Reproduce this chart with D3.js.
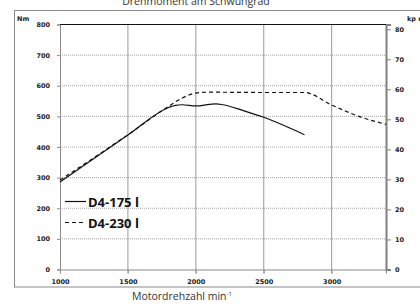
<!DOCTYPE html>
<html>
<head>
<meta charset="utf-8">
<script src="https://cdn.jsdelivr.net/npm/d3@7"></script>
<style>
  body { margin: 0; background: #fff; }
  svg { display: block; }
  .tick text { font-family: "DejaVu Sans", sans-serif; font-weight: bold; font-size: 6.5px; fill: #222; }
</style>
</head>
<body>
<svg width="420" height="304"></svg>
<script>
const NM_PER_KPM = 9.80665;

const rpmTicks = [1000, 1500, 2000, 2500, 3000];
const nmTicks = [0, 100, 200, 300, 400, 500, 600, 700, 800];
const kpmTicks = [0, 10, 20, 30, 40, 50, 60, 70, 80];

// D4-175 l (solid)
const rpm175 = [1000, 1500, 1800, 1850, 1900, 2000, 2100, 2150, 2200, 2350, 2500, 2650, 2800];
const nm175 = [286, 439, 529, 536, 538, 534, 539, 541, 538, 519, 497, 470, 440];

// D4-230 l (dashed)
const rpm230 = [1000, 1500, 1800, 1900, 2000, 2100, 2500, 2800, 3000, 3200, 3400];
const nm230 = [292, 440, 533, 560, 576, 579, 578, 578, 537, 500, 474];

const svg = d3.select("svg");
const margin = { left: 60, right: 34, top: 24.5, bottom: 34.5 };
const width = 420, height = 304;

const x = d3.scaleLinear().domain([1000, 3400]).range([margin.left, width - margin.right]);
const y = d3.scaleLinear().domain([0, 800]).range([height - margin.bottom, margin.top]);
// kp m axis is the same torque scale converted
const y2 = d3.scaleLinear().domain([0, 800 / NM_PER_KPM]).range([y(0), y(800)]);

// outer frame
svg.append("rect")
  .attr("x", 14.5).attr("y", 10.5)
  .attr("width", 420).attr("height", 276.5)
  .attr("fill", "none").attr("stroke", "#8a8a8a").attr("stroke-width", 1);

// title
svg.append("text")
  .attr("x", 196).attr("y", 5)
  .attr("text-anchor", "middle")
  .attr("font-family", "'Open Sans', sans-serif")
  .attr("font-size", 10.5).attr("fill", "#333")
  .text("Drehmoment am Schwungrad");

// horizontal grid (dotted)
svg.append("g")
  .selectAll("line")
  .data(nmTicks.slice(1, -1))
  .join("line")
  .attr("x1", x(1000)).attr("x2", x(3400))
  .attr("y1", (d) => y(d)).attr("y2", (d) => y(d))
  .attr("stroke", "#a0a0a0").attr("stroke-width", 1)
  .attr("stroke-dasharray", "1,1");

// vertical grid
svg.append("g")
  .selectAll("line")
  .data(rpmTicks.slice(1))
  .join("line")
  .attr("x1", (d) => x(d)).attr("x2", (d) => x(d))
  .attr("y1", y(800)).attr("y2", y(0) + 4)
  .attr("stroke", "#9a9a9a").attr("stroke-width", 1);

// bottom axis
const xAxis = svg.append("g")
  .attr("transform", `translate(0,${y(0)})`)
  .call(d3.axisBottom(x).tickValues(rpmTicks).tickFormat(d3.format("d")).tickSize(4).tickPadding(6));
xAxis.select(".domain").attr("stroke", "#8a8a8a");
xAxis.selectAll(".tick line").attr("stroke", "#9a9a9a");

// left axis
const yAxis = svg.append("g")
  .attr("transform", `translate(${x(1000)},0)`)
  .call(d3.axisLeft(y).tickValues(nmTicks).tickFormat(d3.format("d")).tickSize(3).tickPadding(7));
yAxis.select(".domain").attr("stroke", "#8a8a8a");
yAxis.selectAll(".tick line").attr("stroke", "#8a8a8a");

// right axis (kp m)
const y2Axis = svg.append("g")
  .attr("transform", `translate(${x(3400)},0)`)
  .call(d3.axisRight(y2).tickValues(kpmTicks).tickFormat(d3.format("d")).tickSize(5).tickPadding(4));
y2Axis.select(".domain").attr("stroke", "#808080").attr("stroke-width", 2);
y2Axis.selectAll(".tick line").attr("stroke", "#808080");

// top border
svg.append("line")
  .attr("x1", x(1000)).attr("x2", x(3400))
  .attr("y1", y(800)).attr("y2", y(800))
  .attr("stroke", "#111").attr("stroke-width", 1.2);

// unit labels
svg.append("text")
  .attr("x", 17).attr("y", 21)
  .attr("font-family", "'DejaVu Sans', sans-serif").attr("font-weight", "bold")
  .attr("font-size", 6.5).attr("fill", "#222")
  .text("Nm");
svg.append("text")
  .attr("x", 407).attr("y", 21)
  .attr("font-family", "'DejaVu Sans', sans-serif").attr("font-weight", "bold")
  .attr("font-size", 6.5).attr("fill", "#222")
  .text("kp m");

// x label
const xl = svg.append("text")
  .attr("x", 132).attr("y", 300)
  .attr("font-family", "'Open Sans', sans-serif")
  .attr("font-size", 10.5).attr("fill", "#333");
xl.append("tspan").text("Motordrehzahl min");
xl.append("tspan").attr("font-size", 6).attr("dy", -4).text("-1");

// curves
const line = d3.line()
  .x((d) => x(d[0]))
  .y((d) => y(d[1]))
  .curve(d3.curveMonotoneX);

svg.append("path")
  .datum(d3.zip(rpm230, nm230))
  .attr("d", line)
  .attr("fill", "none").attr("stroke", "#111").attr("stroke-width", 1.2)
  .attr("stroke-dasharray", "4,3");

svg.append("path")
  .datum(d3.zip(rpm175, nm175))
  .attr("d", line)
  .attr("fill", "none").attr("stroke", "#111").attr("stroke-width", 1.2);

// legend
const legend = [
  { name: "D4-175 l", dash: null, yy: 201.5 },
  { name: "D4-230 l", dash: "4,3", yy: 222.5 }
];
const lg = svg.append("g").selectAll("g").data(legend).join("g");
lg.append("line")
  .attr("x1", 65).attr("x2", 86)
  .attr("y1", (d) => d.yy).attr("y2", (d) => d.yy)
  .attr("stroke", "#111").attr("stroke-width", 1.2)
  .attr("stroke-dasharray", (d) => d.dash);
lg.append("text")
  .attr("x", 88).attr("y", (d) => d.yy + 5)
  .attr("font-family", "'Open Sans', sans-serif").attr("font-weight", "bold")
  .attr("font-size", 13).attr("fill", "#111")
  .text((d) => d.name);
</script>
</body>
</html>
